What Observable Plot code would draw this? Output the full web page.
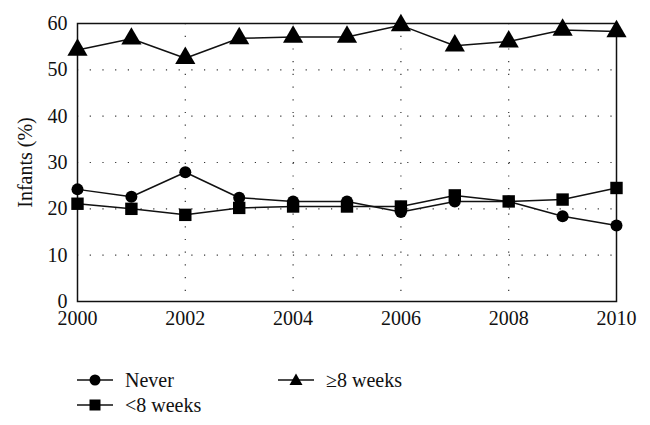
<!DOCTYPE html>
<html>
<head>
<meta charset="utf-8">
<script src="https://cdn.jsdelivr.net/npm/d3@7"></script>
<script src="https://cdn.jsdelivr.net/npm/@observablehq/plot@0.6"></script>
<style>
  body { margin: 0; background: #fff; font-family: 'Liberation Serif', serif; }
  #wrap { position: relative; width: 650px; height: 425px; }
  .legend { position: absolute; font-family: 'Liberation Serif', serif; font-size: 20px; color: #111; display: flex; align-items: center; height: 24px; }
  .legend svg { margin-right: 12px; }
</style>
</head>
<body>
<div id="wrap"></div>
<script>
const years = [2000, 2001, 2002, 2003, 2004, 2005, 2006, 2007, 2008, 2009, 2010];
const never = [24.2, 22.6, 27.9, 22.4, 21.6, 21.6, 19.3, 21.6, 21.6, 18.4, 16.4];
const under8 = [21.1, 20.0, 18.7, 20.2, 20.5, 20.5, 20.5, 22.9, 21.6, 22.0, 24.5];
const over8 = [54.3, 56.7, 52.5, 56.8, 57.1, 57.1, 59.6, 55.2, 56.1, 58.6, 58.3];
const seriesNames = ["Never", "<8 weeks", "≥8 weeks"];
const symbols = ["circle", "square", "triangle"];
const symbolR = [6, 7, 7.5];
const yTicks = [0, 10, 20, 30, 40, 50, 60];
const xTicks = [2000, 2002, 2004, 2006, 2008, 2010];
const gridY = [10, 20, 30, 40, 50];
const gridX = [2002, 2004, 2006, 2008];

const allVals = [never, under8, over8];
const rows = [];
allVals.forEach((vals, s) => years.forEach((yr, i) => rows.push({year: yr, value: vals[i], series: seriesNames[s], idx: s})));

const font = "'Liberation Serif', serif";
const marks = [
  Plot.ruleY(gridY, {stroke: "#333", strokeDasharray: "1.2,11.5", strokeWidth: 1.2}),
  Plot.ruleX(gridX, {stroke: "#333", strokeDasharray: "1.2,11.5", strokeWidth: 1.2}),
  Plot.frame({stroke: "#111", strokeWidth: 1.5}),
  Plot.axisY({ticks: yTicks, tickSize: 0, tickPadding: 10, fontSize: 20, fontFamily: font, label: "Infants (%)", labelAnchor: "center", labelArrow: "none", labelOffset: 60}),
  Plot.axisX({ticks: xTicks, tickSize: 0, tickPadding: 9, fontSize: 20, fontFamily: font, tickFormat: "d", label: null})
];
seriesNames.forEach((name, s) => {
  const d = rows.filter(r => r.idx === s);
  marks.push(Plot.line(d, {x: "year", y: "value", stroke: "#111", strokeWidth: 1.5}));
  marks.push(Plot.dot(d, {x: "year", y: "value", symbol: () => symbols[s], r: symbolR[s], fill: "#000", stroke: "none"}));
});

const chart = Plot.plot({
  width: 650,
  height: 340,
  marginLeft: 77,
  marginRight: 34,
  marginTop: 23,
  marginBottom: 39,
  style: {fontFamily: font, fontSize: "20px", color: "#111", background: "#fff"},
  x: {domain: [2000, 2010]},
  y: {domain: [0, 60]},
  symbol: {domain: symbols, range: symbols},
  marks
});
document.getElementById("wrap").appendChild(chart);
chart.style.position = "absolute";
chart.style.left = "0px";
chart.style.top = "0px";

// legend
const legendPos = [[77, 368], [77, 393], [278, 368]];
const symPaths = {
  circle: '<circle cx="18" cy="10" r="5.5" fill="#000"/>',
  square: '<rect x="12.5" y="4.5" width="11" height="11" fill="#000"/>',
  triangle: '<path d="M18,3.5 L24.5,15 L11.5,15 Z" fill="#000"/>'
};
seriesNames.forEach((name, s) => {
  const div = document.createElement("div");
  div.className = "legend";
  div.style.left = legendPos[s][0] + "px";
  div.style.top = legendPos[s][1] + "px";
  div.innerHTML = `<svg width="36" height="20"><line x1="0" y1="10" x2="36" y2="10" stroke="#111" stroke-width="1.5"/>${symPaths[symbols[s]]}</svg><span></span>`;
  div.querySelector("span").textContent = name;
  document.getElementById("wrap").appendChild(div);
});
</script>
</body>
</html>
